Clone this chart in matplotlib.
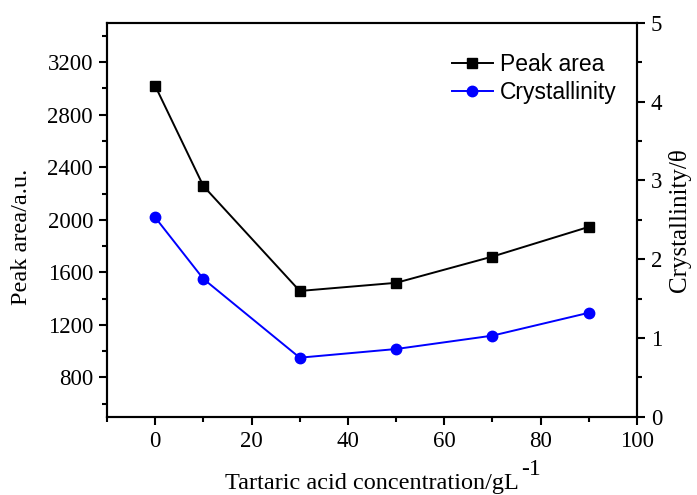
import numpy as np
import matplotlib
matplotlib.use("Agg")
import matplotlib.pyplot as plt
from matplotlib.ticker import MultipleLocator

plt.rcParams['font.family'] = 'Liberation Serif'

conc = [0, 10, 30, 50, 70, 90]
peak_area = [3020, 2257, 1458, 1520, 1720, 1946]
crystallinity = [2.53, 1.75, 0.75, 0.86, 1.03, 1.32]

fig = plt.figure(figsize=(6.97, 4.95), dpi=100)
ax = fig.add_axes([0.1535, 0.158, 0.7605, 0.796])
ax2 = ax.twinx()

l1, = ax.plot(conc, peak_area, color='black', marker='s', markersize=6.5, lw=1.4, label='Peak area')
l2, = ax2.plot(conc, crystallinity, color='blue', marker='o', markersize=7.5, lw=1.4, label='Crystallinity')

ax.set_xlim(-10, 100)
ax.set_ylim(500, 3500)
ax2.set_ylim(0, 5)

ax.xaxis.set_major_locator(MultipleLocator(20))
ax.xaxis.set_minor_locator(MultipleLocator(10))
ax.yaxis.set_minor_locator(MultipleLocator(200))
ax.set_yticks(np.arange(800, 3201, 400))
ax2.yaxis.set_major_locator(MultipleLocator(1))
ax2.yaxis.set_minor_locator(MultipleLocator(0.5))

for a in (ax, ax2):
    for s in a.spines.values():
        s.set_linewidth(1.5)
    a.tick_params(which='major', direction='out', length=6, width=1.5, labelsize=16.5, pad=4)
    a.tick_params(which='minor', direction='out', length=3.5, width=1.5)

ax.set_xlabel('Tartaric acid concentration/gL', fontsize=17.5, labelpad=15)
ax.set_ylabel('Peak area/a.u.', fontsize=17.5)
ax.yaxis.set_label_coords(-0.142, 0.456)
ax2.set_ylabel('Crystallinity/\u03b8', fontsize=18)
ax2.yaxis.set_label_coords(1.058, 0.5)

ax.legend(handles=[l1, l2], loc='upper right', bbox_to_anchor=(1.0, 0.975), frameon=False,
          prop={'family': 'Liberation Sans', 'size': 16.5}, handlelength=1.8,
          handletextpad=0.3, labelspacing=0.2)

# superscript "-1" drawn full size and raised, as in the original
fig.canvas.draw()
bb = ax.xaxis.label.get_window_extent()
fig.text((bb.x1 + 2) / fig.bbox.width, (bb.y0 + 0.5 * bb.height + 14) / fig.bbox.height, '-1',
         fontsize=17, ha='left', va='center')

fig.savefig('out.png', dpi=100)
